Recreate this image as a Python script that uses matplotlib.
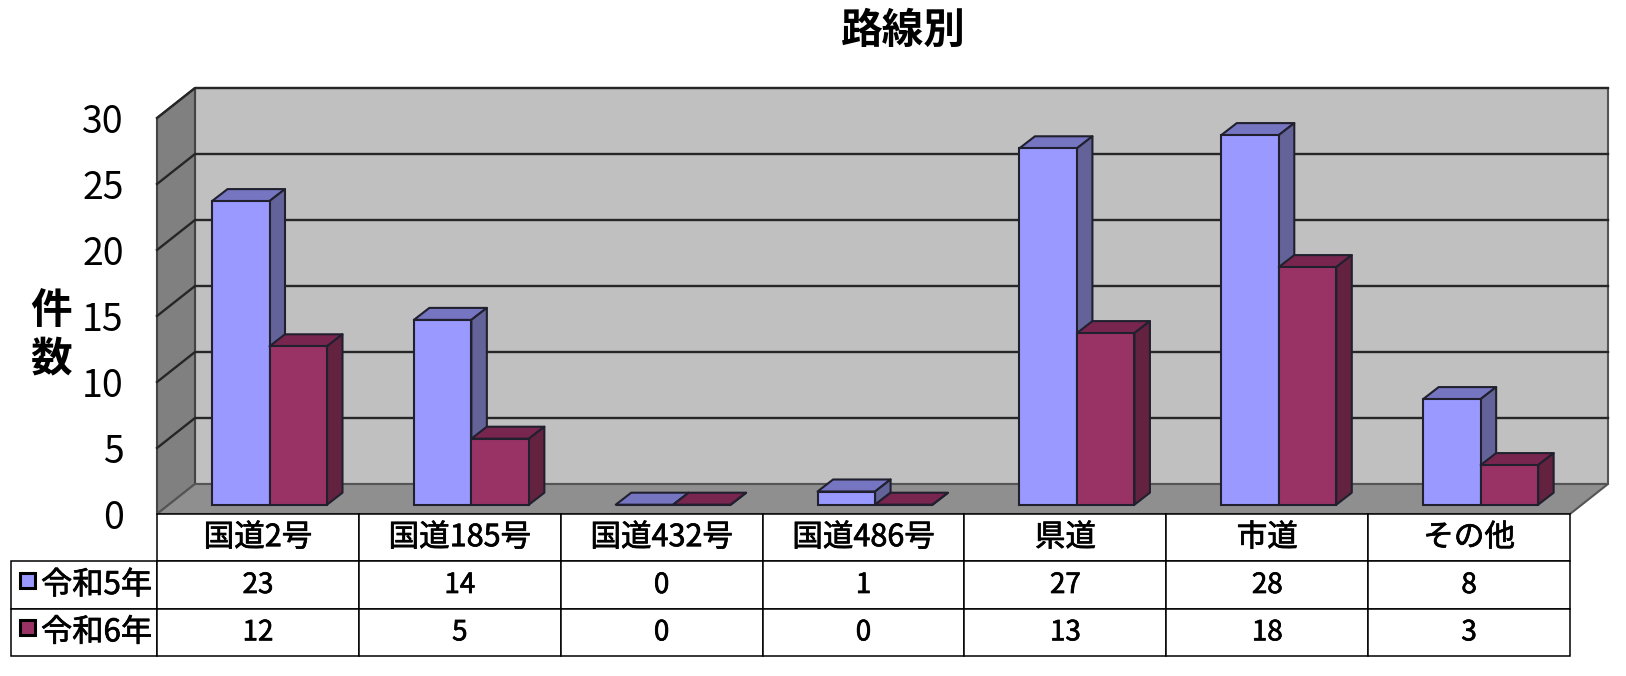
import matplotlib
matplotlib.use("Agg")
import matplotlib.pyplot as plt
import matplotlib.patheffects as pe
from matplotlib.patches import Polygon, Rectangle

plt.rcParams['font.family'] = ['Noto Sans CJK JP', 'DejaVu Sans']

categories = ["国道2号", "国道185号", "国道432号", "国道486号", "県道", "市道", "その他"]
series_names = ["令和5年", "令和6年"]
r5_values = [23, 14, 0, 1, 27, 28, 8]
r6_values = [12, 5, 0, 0, 13, 18, 3]
y_ticks = [0, 5, 10, 15, 20, 25, 30]

W, H = 1626, 676
fig = plt.figure(figsize=(W / 100, H / 100), dpi=100, facecolor="white")
ax = fig.add_axes([157 / W, (H - 514) / H, 1413 / W, 396 / H])
ax.set_xlim(0, 7)
ax.set_ylim(0, 30)
ax.patch.set_visible(False)
for sp in ax.spines.values():
    sp.set_visible(False)

# pixels to data units, used for the fake 3D depth
px_x = 7 / 1413
px_y = 30 / 396
wall_dx, wall_dy = 38 * px_x, 30 * px_y
base_dx, base_dy = 11 * px_x, 9.3 * px_y
bar_dx, bar_dy = 15.5 * px_x, 12 * px_y
bar_w = 57.5 * px_x
bar_start = 44 * px_x
edge = "#20202e"


def poly(pts, fc, ec=edge, lw=1.5, z=1):
    ax.add_patch(Polygon(pts, closed=True, facecolor=fc, edgecolor=ec, linewidth=lw,
                         zorder=z, clip_on=False, joinstyle="round"))


# walls and floor
poly([(wall_dx, wall_dy), (7 + wall_dx, wall_dy), (7 + wall_dx, 30 + wall_dy), (wall_dx, 30 + wall_dy)],
     "#c0c0c0", ec="#555555", z=1)
poly([(0, 0), (wall_dx, wall_dy), (wall_dx, 30 + wall_dy), (0, 30)], "#808080", ec="#444444", z=2)
poly([(0, 0), (wall_dx, wall_dy), (7 + wall_dx, wall_dy), (7, 0)], "#8f8f8f", ec="#555555", z=2)

for t in y_ticks[1:]:
    ax.plot([0, wall_dx, 7 + wall_dx], [t, t + wall_dy, t + wall_dy], color="#262626", lw=1.7,
            zorder=3, clip_on=False)

# bars
colors = [("#9999ff", "#7575c2", "#636399"), ("#993366", "#78264f", "#632240")]
for i in range(len(categories)):
    for j, vals in enumerate([r5_values, r6_values]):
        v = vals[i]
        x0 = i + base_dx + bar_start + j * bar_w
        y0 = base_dy
        front, top, side = colors[j]
        z = 5 + i + j * 0.1
        ax.bar(x0, v, width=bar_w, bottom=y0, align="edge", color=front, edgecolor=edge,
               linewidth=1.5, zorder=z + 0.02, clip_on=False)
        poly([(x0, y0 + v), (x0 + bar_dx, y0 + v + bar_dy), (x0 + bar_w + bar_dx, y0 + v + bar_dy),
              (x0 + bar_w, y0 + v)], top, z=z)
        poly([(x0 + bar_w, y0), (x0 + bar_w + bar_dx, y0 + bar_dy), (x0 + bar_w + bar_dx, y0 + v + bar_dy),
              (x0 + bar_w, y0 + v)], side, z=z)

ax.set_xticks([])
ax.set_yticks(y_ticks)
ax.tick_params(axis="y", direction="in", length=9.5, width=1, pad=24, labelsize=27, color="black")

# data table under the plot, row label cells added by hand so their width stays fixed
cell_text = [[str(v) for v in r5_values], [str(v) for v in r6_values]]
tb = ax.table(cellText=cell_text, colLabels=categories, cellLoc="center",
              bbox=[0, -142 / 396, 1, 142 / 396], zorder=20)
tb.auto_set_font_size(False)
row_h = tb[(1, 0)].get_height()
col_w = tb[(1, 0)].get_width()
for k, name in enumerate(series_names):
    tb.add_cell(k + 1, -1, width=col_w * 146 / (1413 / 7), height=row_h, text=name, loc="left")
bolder = [pe.withStroke(linewidth=0.5, foreground="black")]
for (r, c), cell in tb.get_celld().items():
    cell.set_linewidth(1.1)
    cell.set_edgecolor("black")
    if c == -1:
        cell.PAD = 30 / 146
        cell.set_text_props(fontsize=22.5, path_effects=bolder)
    elif r == 0:
        cell.set_text_props(fontsize=22, path_effects=bolder)
    else:
        cell.set_text_props(fontsize=20, path_effects=bolder)

# legend keys in the table
for k, swatch_y in enumerate([573, 620]):
    fig.add_artist(Rectangle((19.5 / W, 1 - (swatch_y + 15) / H), 15 / W, 15 / H, transform=fig.transFigure,
                             facecolor=colors[k][0], edgecolor="black", linewidth=2.2, zorder=30))

fig.text(903 / W, 1 - 31 / H, "路線別", fontsize=30, fontweight="bold", ha="center", va="center")
fig.text(51 / W, 1 - 335 / H, "件\n数", fontsize=30, fontweight="bold", ha="center", va="center",
         linespacing=1.2)

plt.savefig("out.png", dpi=100)
plt.close()
